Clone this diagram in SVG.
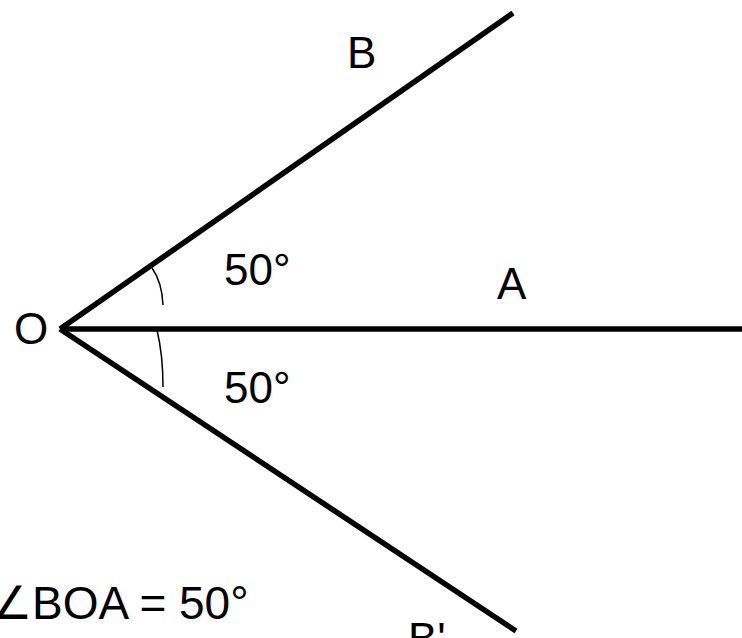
<svg xmlns="http://www.w3.org/2000/svg" width="742" height="638" viewBox="0 0 742 638">
<style>
.ray{stroke:#000;stroke-width:5.5;fill:none}
.arc{stroke:#000;stroke-width:1.5;fill:none}
text{font-family:"Liberation Sans",Arial,sans-serif;font-size:44px;fill:#000}
.eq{font-size:46px}
</style>
<rect width="742" height="638" fill="#fff"/>
<g id="connectors">
<line class="ray" x1="60" y1="329" x2="513" y2="13"/>
<line class="ray" x1="60" y1="329" x2="742" y2="329"/>
<line class="ray" x1="60" y1="329" x2="516" y2="631"/>
<path class="arc" d="M152,268 Q162,282 163,305"/>
<path class="arc" d="M157,330 Q163,355 163,387"/>
</g>
<g id="O"><text x="14" y="344">O</text></g>
<g id="B"><text x="347" y="68">B</text></g>
<g id="A"><text x="497" y="299">A</text></g>
<g id="Bp"><text x="408" y="654">B'</text></g>
<g id="angle1"><text x="224" y="285">50°</text></g>
<g id="angle2"><text x="224" y="403">50°</text></g>
<g id="eq"><text class="eq" x="-9" y="619">∠BOA = 50°</text></g>
</svg>
